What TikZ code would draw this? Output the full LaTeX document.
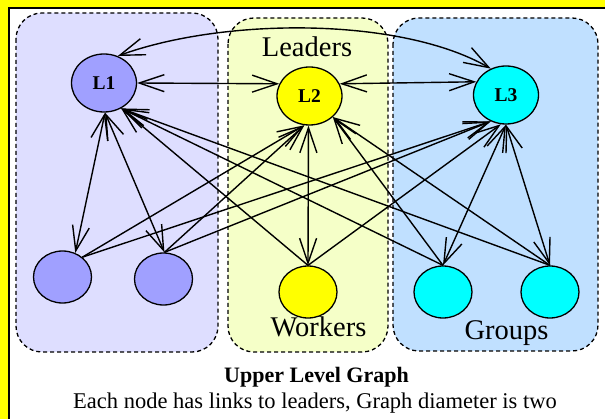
\documentclass[tikz,border=0pt]{standalone}
\usepackage{fontspec}
\setmainfont{Liberation Serif}
\usetikzlibrary{arrows.meta,shapes.geometric}
\definecolor{framey}{RGB}{255,255,0}
\definecolor{boxA}{RGB}{222,222,255}
\definecolor{boxB}{RGB}{245,255,200}
\definecolor{boxC}{RGB}{192,224,255}
\definecolor{nodeA}{RGB}{160,160,255}
\definecolor{nodeB}{RGB}{255,255,0}
\definecolor{nodeC}{RGB}{0,255,255}
\begin{document}
\begin{tikzpicture}[x=1pt,y=1pt,
  grp/.style={draw, dash pattern=on 4pt off 3pt, line width=1.3pt, rounded corners=26pt},
  vtx/.style={ellipse, draw, line width=1.3pt, inner sep=0pt, font=\fontsize{19.5}{20}\selectfont\bfseries},
  lead/.style={vtx, minimum width=65pt, minimum height=58pt},
  memb/.style={vtx, minimum width=58pt, minimum height=52pt},
  barb/.tip={Straight Barb[length=25pt,width=17pt,line width=1.4pt]},
  lnk/.style={line width=1.4pt, -barb},
  blnk/.style={line width=1.4pt, barb-barb},
  lbl/.style={font=\fontsize{28.5}{30}\selectfont, anchor=base, inner sep=0pt},
  captxt/.style={font=\fontsize{22.5}{24}\selectfont, anchor=base, inner sep=0pt}
]
\useasboundingbox (0,0) rectangle (605,-419);
\fill[white] (0,0) rectangle (605,-419);
\fill[framey] (0,0) rectangle (605,-8);
\fill[framey] (0,0) rectangle (8.5,-419);
\draw[line width=1.5pt] (605,-8) -- (9,-8) -- (9,-419);

\path[grp, fill=boxA] (16,-13) rectangle (218,-352);
\path[grp, fill=boxB] (228,-18) rectangle (388,-352);
\path[grp, fill=boxC] (393,-18) rectangle (598,-351);

\node[lead, fill=nodeA] (L1) at (104,-83) {L1};
\node[lead, fill=nodeB] (L2) at (309.5,-96) {L2};
\node[lead, fill=nodeC] (L3) at (506,-95) {L3};
\node[memb, fill=nodeA] (B1) at (62.5,-277) {};
\node[memb, fill=nodeA] (B2) at (163.5,-279) {};
\node[memb, fill=nodeB] (W) at (308,-292) {};
\node[memb, fill=nodeC] (G1) at (443,-292) {};
\node[memb, fill=nodeC] (G2) at (550,-292) {};

\draw[blnk] (L1.0) -- (L2.158);
\draw[blnk] (L2.22) -- (L3.156);
\draw[blnk] (L1.63) .. controls +(20:113) and +(150:104) .. (L3.120);

\draw[blnk] (L1.-88) -- (B1.62);
\draw[blnk] (L1.-88) -- (B2.88);
\draw[blnk] (L2.-92) -- (W.90);
\draw[blnk] (L3.-90) -- (G1.90);
\draw[blnk] (L3.-90) -- (G2.90);

\draw[lnk] (B1.45) -- (L2.-100);
\draw[lnk] (B1.45) -- (L3.-120);
\draw[lnk] (B2.88) -- (L2.-100);
\draw[lnk] (B2.88) -- (L3.-120);
\draw[lnk] (W.90) -- (L1.-56);
\draw[lnk] (W.90) -- (L3.-100);
\draw[lnk] (G1.90) -- (L1.-56);
\draw[lnk] (G1.90) -- (L2.-42);
\draw[lnk] (G2.90) -- (L1.-56);
\draw[lnk] (G2.90) -- (L2.-42);

\node[lbl] (tLeaders) at (307,-57) {Leaders};
\node[lbl] (tWorkers) at (318.5,-337) {Workers};
\node[lbl] (tGroups) at (506.5,-340) {Groups};
\node[captxt, font=\fontsize{22}{24}\selectfont\bfseries] (cap1) at (316.5,-383) {Upper Level Graph};
\node[captxt] (cap2) at (315,-409) {Each node has links to leaders, Graph diameter is two};
\end{tikzpicture}
\end{document}
